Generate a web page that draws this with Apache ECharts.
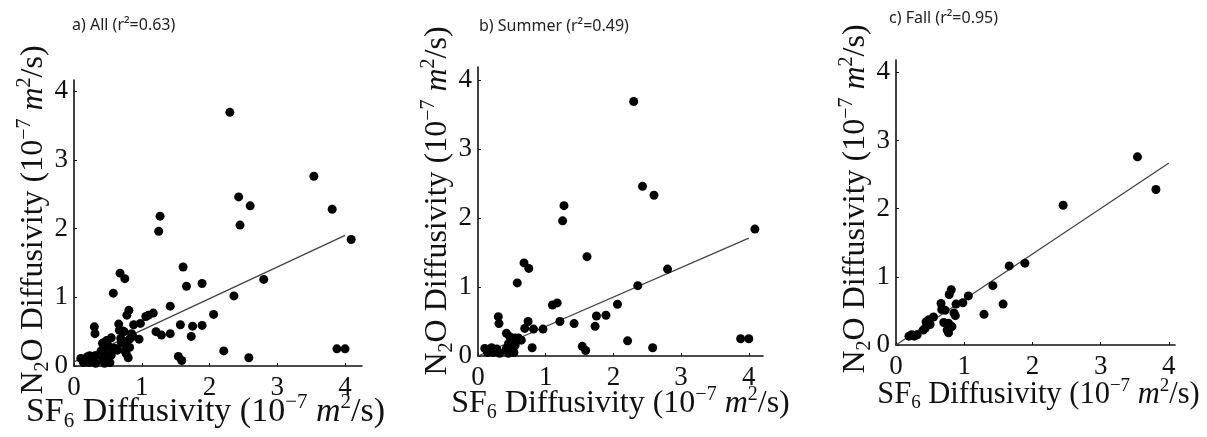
<!DOCTYPE html>
<html>
<head>
<meta charset="utf-8">
<script src="https://cdn.jsdelivr.net/npm/echarts@6/dist/echarts.min.js"></script>
<style>
  html, body { margin: 0; padding: 0; background: #fff; }
  #chart { width: 1207px; height: 437px; }
</style>
</head>
<body>
<div id="chart"></div>
<script>
// panel titles
const panelTitles = ['a) All (r²=0.63)', 'b) Summer (r²=0.49)', 'c) Fall (r²=0.95)'];

// tick labels, same on both axes of every panel
const tickValues = [0, 1, 2, 3, 4];

// summer points [SF6, N2O], 10^-7 m2/s
const summerPoints = [
  [2.30, 3.69], [2.43, 2.46], [2.60, 2.33], [1.27, 2.18], [1.25, 1.96],
  [4.09, 1.84], [1.61, 1.44], [0.68, 1.35], [0.75, 1.27], [0.58, 1.06],
  [2.80, 1.26], [2.36, 1.02], [1.10, 0.74], [1.17, 0.77], [2.06, 0.75],
  [1.75, 0.58], [1.89, 0.59], [1.73, 0.43], [1.21, 0.50], [1.42, 0.47],
  [0.96, 0.39], [0.30, 0.57], [0.31, 0.47], [0.74, 0.50], [0.82, 0.39],
  [0.69, 0.40], [2.21, 0.22], [3.88, 0.25], [4.00, 0.25], [2.58, 0.12],
  [1.54, 0.14], [1.59, 0.08], [0.80, 0.12], [0.42, 0.33], [0.47, 0.28],
  [0.55, 0.26], [0.60, 0.26], [0.64, 0.23], [0.45, 0.18], [0.55, 0.16],
  [0.42, 0.11], [0.50, 0.11], [0.10, 0.11], [0.20, 0.12], [0.28, 0.10],
  [0.14, 0.05], [0.22, 0.05], [0.32, 0.04], [0.45, 0.04], [0.53, 0.05]
];

// fall points [SF6, N2O]
const fallPoints = [
  [3.54, 2.76], [3.81, 2.28], [2.45, 2.05], [1.66, 1.16], [1.89, 1.20],
  [1.42, 0.87], [1.57, 0.60], [1.29, 0.45], [1.06, 0.72], [0.81, 0.81],
  [0.78, 0.74], [0.98, 0.62], [0.88, 0.60], [0.66, 0.61], [0.67, 0.52],
  [0.72, 0.51], [0.87, 0.43], [0.85, 0.47], [0.55, 0.41], [0.48, 0.37],
  [0.44, 0.34], [0.50, 0.30], [0.70, 0.33], [0.77, 0.32], [0.82, 0.27],
  [0.75, 0.22], [0.77, 0.18], [0.43, 0.25], [0.40, 0.22], [0.23, 0.15],
  [0.31, 0.15], [0.19, 0.13], [0.27, 0.13]
];

// all = summer + fall
const allPoints = summerPoints.concat(fallPoints);

// regression lines, end points
const fitAll = [[0, 0.06], [4, 1.90]];
const fitSummer = [[0, 0], [4, 1.71]];
const fitFall = [[0, 0], [4, 2.67]];

const panels = [
  { title: panelTitles[0], points: allPoints, fit: fitAll,
    left: 74, top: 80, width: 288, height: 286, xMax: 4.25, yMax: 4.16,
    titleLeft: 72, titleTop: 17,
    xNameSize: 34, xNameGap: 26, xNamePad: [0, 25, 0, 0],
    yNameSize: 32, yNameGap: 21, yNamePad: [0, 0, 0, 6] },
  { title: panelTitles[1], points: summerPoints, fit: fitSummer,
    left: 478, top: 67, width: 285, height: 289, xMax: 4.21, yMax: 4.19,
    titleLeft: 479, titleTop: 18,
    xNameSize: 32, xNameGap: 29, xNamePad: [0, 0, 0, 0],
    yNameSize: 32, yNameGap: 21, yNamePad: [0, 0, 0, 21] },
  { title: panelTitles[2], points: fallPoints, fit: fitFall,
    left: 896, top: 60, width: 279, height: 285, xMax: 4.09, yMax: 4.18,
    titleLeft: 889, titleTop: 10,
    xNameSize: 30.5, xNameGap: 32, xNamePad: [0, 0, 0, 6],
    yNameSize: 32, yNameGap: 21, yNamePad: [0, 0, 0, 7] }
];

const serif = 'Liberation Serif';
function nameRich(size) {
  const small = Math.round(size * 0.62);
  const lh = Math.round(size * 1.18);
  return {
    a: { fontFamily: serif, fontSize: size, lineHeight: lh, color: '#111' },
    i: { fontFamily: serif, fontSize: size, lineHeight: lh, fontStyle: 'italic', color: '#111' },
    p: { fontFamily: serif, fontSize: small, lineHeight: small + 2, verticalAlign: 'top', color: '#111' },
    s: { fontFamily: serif, fontSize: small, lineHeight: small - 1, verticalAlign: 'bottom', color: '#111' }
  };
}
const xName = '{a|SF}{s|6}{a| Diffusivity (10}{p|−7}{a| }{i|m}{p|2}{a|/s)}';
const yName = '{a|N}{s|2}{a|O Diffusivity (10}{p|−7}{a| }{i|m}{p|2}{a|/s)}';

function axisCommon(max) {
  return {
    min: 0,
    max: max,
    nameMoveOverlap: false,
    axisLine: { show: true, onZero: false, lineStyle: { color: '#111', width: 1.6 } },
    axisTick: { show: true, inside: true, length: 3, customValues: tickValues, lineStyle: { color: '#111' } },
    splitLine: { show: false }
  };
}

const option = {
  backgroundColor: '#fff',
  animation: false,
  title: panels.map(p => ({
    text: p.title, left: p.titleLeft, top: p.titleTop, padding: 0,
    textStyle: { fontFamily: 'Noto Sans', fontSize: 16, fontWeight: 'normal', color: '#222' }
  })),
  grid: panels.map(p => ({ left: p.left, top: p.top, width: p.width, height: p.height })),
  xAxis: panels.map((p, k) => Object.assign(axisCommon(p.xMax), {
    type: 'value', gridIndex: k,
    name: xName, nameLocation: 'middle', nameGap: p.xNameGap,
    nameTextStyle: { rich: nameRich(p.xNameSize), padding: p.xNamePad },
    axisLabel: { customValues: tickValues, fontFamily: serif, fontSize: 27, color: '#111', margin: 8 }
  })),
  yAxis: panels.map((p, k) => Object.assign(axisCommon(p.yMax), {
    type: 'value', gridIndex: k,
    name: yName, nameLocation: 'middle', nameGap: p.yNameGap,
    nameTextStyle: { rich: nameRich(p.yNameSize), padding: p.yNamePad },
    axisLabel: { customValues: tickValues, fontFamily: serif, fontSize: 27, color: '#111', margin: 6 }
  })),
  series: [].concat(
    panels.map((p, k) => ({
      type: 'line', xAxisIndex: k, yAxisIndex: k, data: p.fit,
      showSymbol: false, silent: true, z: 1,
      lineStyle: { color: '#444', width: 1.3 }
    })),
    panels.map((p, k) => ({
      type: 'scatter', xAxisIndex: k, yAxisIndex: k, data: p.points,
      symbolSize: 9, z: 2,
      itemStyle: { color: '#000', opacity: 1 }
    }))
  )
};

const chart = echarts.init(document.getElementById('chart'), null, { renderer: 'canvas' });
chart.setOption(option);
</script>
</body>
</html>
